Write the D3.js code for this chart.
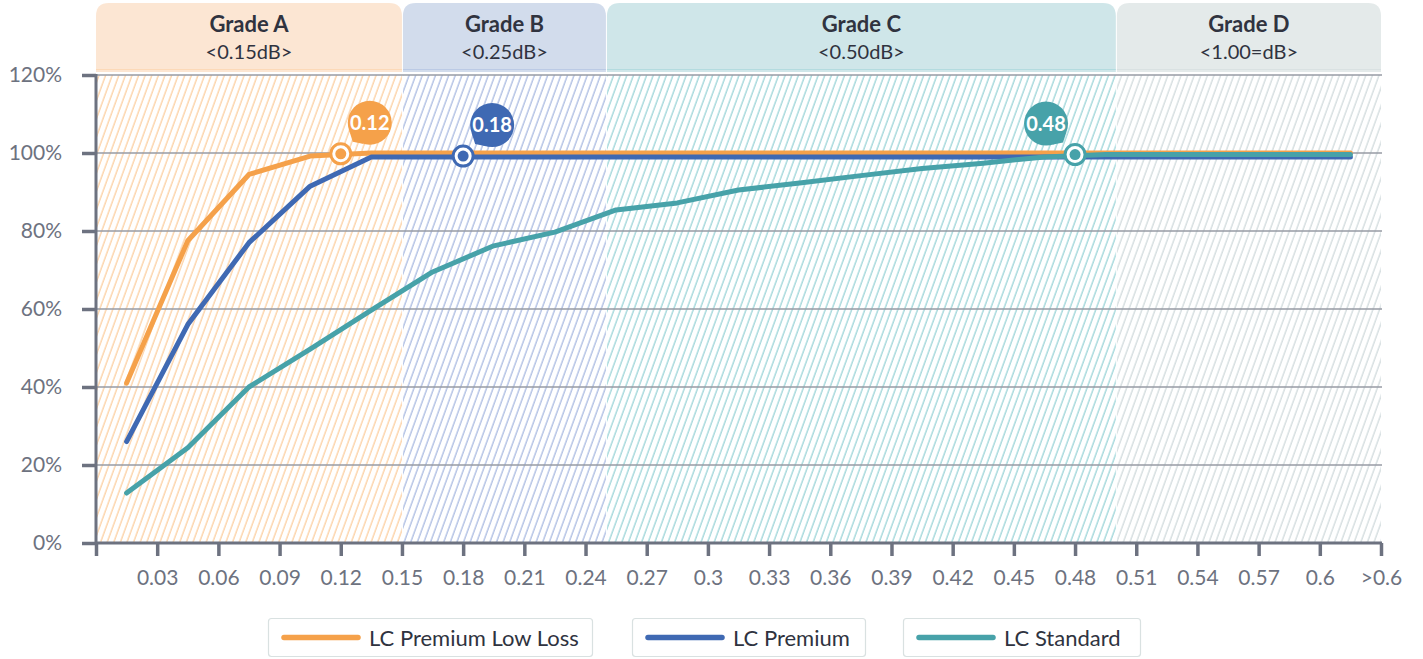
<!DOCTYPE html>
<html>
<head>
<meta charset="utf-8">
<script src="https://cdn.jsdelivr.net/npm/d3@7"></script>
<style>
  body { margin: 0; background: #fff; }
  svg { display: block; font-family: Lato, "Noto Sans", sans-serif; }
</style>
</head>
<body>
<div id="chart"></div>
<script>
// chart size
let width = 1423;
let height = 659;

// x positions of the points (middle of each 0.03 bin)
let xPoints = [0.015, 0.045, 0.075, 0.105, 0.135, 0.165, 0.195, 0.225, 0.255, 0.285, 0.315,
               0.345, 0.375, 0.405, 0.435, 0.465, 0.495, 0.525, 0.555, 0.585, 0.615];

// cumulative share of connectors, in %
let lowLoss  = [41, 77.5, 94.5, 99.2, 100, 100, 100, 100, 100, 100, 100,
                100, 100, 100, 100, 100, 100, 100, 100, 100, 100];
let premium  = [26, 56, 77, 91.5, 99, 99, 99, 99, 99, 99, 99,
                99, 99, 99, 99, 99, 99, 99, 99, 99, 99];
let standard = [12.8, 24.4, 40, 49.7, 59.7, 69.5, 76.2, 79.7, 85.4, 87.2, 90.5,
                92.3, 94.2, 96.0, 97.4, 99.0, 99.6, 99.6, 99.6, 99.6, 99.6];

let seriesNames = ["LC Premium Low Loss", "LC Premium", "LC Standard"];
let seriesColors = ["#f5a14a", "#3f69b3", "#47a2a9"];

// where each series reaches 100%
let markerX = [0.12, 0.18, 0.48];
let markerY = [99.8, 99.2, 99.6];
let markerLabels = ["0.12", "0.18", "0.48"];

// grade bands
let gradeNames = ["Grade A", "Grade B", "Grade C", "Grade D"];
let gradeLimits = ["<0.15dB>", "<0.25dB>", "<0.50dB>", "<1.00=dB>"];
let gradeFrom = [0, 0.15, 0.25, 0.5];
let gradeTo = [0.15, 0.25, 0.5, 0.63];
let gradeFill = ["#fce6d3", "#d2dcec", "#cfe6e9", "#e4eaea"];
let gradeHatch = ["#fcc995", "#a0b3de", "#90cfd3", "#ccd6d9"];

// axis ticks
let xTicks = [0, 0.03, 0.06, 0.09, 0.12, 0.15, 0.18, 0.21, 0.24, 0.27, 0.3,
              0.33, 0.36, 0.39, 0.42, 0.45, 0.48, 0.51, 0.54, 0.57, 0.6, 0.63];
let xTickLabels = ["", "0.03", "0.06", "0.09", "0.12", "0.15", "0.18", "0.21", "0.24", "0.27", "0.3",
                   "0.33", "0.36", "0.39", "0.42", "0.45", "0.48", "0.51", "0.54", "0.57", "0.6", ">0.6"];
let yTicks = [0, 20, 40, 60, 80, 100, 120];

let axisColor = "#6d7280";

let svg = d3.select("#chart")
            .append("svg")
            .attr("width", width)
            .attr("height", height);

let x = d3.scaleLinear()
          .domain([0, 0.63])
          .range([96, 1381]);

let y = d3.scaleLinear()
          .domain([0, 120])
          .range([543, 75]);

// hatch patterns
let defs = svg.append("defs");
gradeHatch.forEach(function(c, i) {
    let p = defs.append("pattern")
                .attr("id", "hatch" + i)
                .attr("patternUnits", "userSpaceOnUse")
                .attr("width", 6.2)
                .attr("height", 10)
                .attr("patternTransform", "rotate(20)");
    p.append("line")
     .attr("x1", 1).attr("y1", 0)
     .attr("x2", 1).attr("y2", 10)
     .style("stroke", c)
     .style("stroke-width", 1.15);
});

// hatched bands in the plot
svg.selectAll("rect.band")
    .data(gradeFrom)
    .enter()
    .append("rect")
    .attr("class", "band")
    .attr("x", function(d, i) { return x(d) + (i > 0 ? 1 : 0); })
    .attr("y", y(120))
    .attr("width", function(d, i) { return x(gradeTo[i]) - x(d) - (i > 0 ? 1 : 0); })
    .attr("height", y(0) - y(120))
    .style("fill", function(d, i) { return "url(#hatch" + i + ")"; });

// header tabs with rounded top corners
function tabPath(x0, x1, y0, y1, r) {
    return "M" + x0 + "," + y1 +
           "L" + x0 + "," + (y0 + r) +
           "Q" + x0 + "," + y0 + " " + (x0 + r) + "," + y0 +
           "L" + (x1 - r) + "," + y0 +
           "Q" + x1 + "," + y0 + " " + x1 + "," + (y0 + r) +
           "L" + x1 + "," + y1 + "Z";
}

let header = svg.append("g");
gradeNames.forEach(function(name, i) {
    let x0 = x(gradeFrom[i]) + (i > 0 ? 1 : 0);
    let x1 = x(gradeTo[i]);
    header.append("path")
          .attr("d", tabPath(x0, x1, 3, 72, 13))
          .style("fill", gradeFill[i]);
    header.append("line")
          .attr("x1", x0).attr("x2", x1)
          .attr("y1", 69.5).attr("y2", 69.5)
          .style("stroke", gradeHatch[i])
          .style("stroke-opacity", 0.45)
          .style("stroke-width", 1);
    header.append("text")
          .attr("x", (x0 + x1) / 2)
          .attr("y", 32)
          .attr("text-anchor", "middle")
          .style("font-size", "22px")
          .style("font-weight", "bold")
          .style("fill", "#30333f")
          .text(name);
    header.append("text")
          .attr("x", (x0 + x1) / 2)
          .attr("y", 59)
          .attr("text-anchor", "middle")
          .style("font-size", "20px")
          .style("fill", "#30333f")
          .text(gradeLimits[i]);
});

// gridlines
svg.append("g")
    .selectAll("line")
    .data(yTicks.slice(1))
    .enter()
    .append("line")
    .attr("x1", x(0))
    .attr("x2", x(0.63) + 1)
    .attr("y1", function(d) { return y(d); })
    .attr("y2", function(d) { return y(d); })
    .style("stroke", "#979ba4")
    .style("stroke-width", 1.6);

// axes
let xAxis = svg.append("g")
    .attr("transform", "translate(0," + y(0) + ")")
    .call(d3.axisBottom(x)
            .tickValues(xTicks)
            .tickFormat(function(d, i) { return xTickLabels[i]; })
            .tickSize(13)
            .tickPadding(14));

let yAxis = svg.append("g")
    .attr("transform", "translate(" + x(0) + ",0)")
    .call(d3.axisLeft(y)
            .tickValues(yTicks)
            .tickFormat(function(d) { return d + "%"; })
            .tickSize(14)
            .tickPadding(20));

[xAxis, yAxis].forEach(function(a) {
    a.select(".domain")
     .style("stroke", axisColor)
     .style("stroke-width", 3);
    a.selectAll(".tick line")
     .style("stroke", axisColor)
     .style("stroke-width", 3.5);
    a.selectAll(".tick text")
     .style("fill", axisColor)
     .style("font-family", "Lato, sans-serif")
     .style("font-size", "21px");
});
xAxis.select(".domain").attr("d", "M" + x(0) + ",0H" + (x(0.63) + 1));
yAxis.select(".domain").attr("d", "M0," + (y(0) + 1.5) + "V" + (y(120) - 1));

// series lines
let allSeries = [lowLoss, premium, standard];
let line = d3.line()
             .x(function(d, i) { return x(xPoints[i]); })
             .y(function(d) { return y(d); });

svg.append("g")
    .selectAll("path")
    .data(allSeries)
    .enter()
    .append("path")
    .attr("d", line)
    .style("fill", "none")
    .style("stroke", function(d, i) { return seriesColors[i]; })
    .style("stroke-width", 5)
    .style("stroke-linecap", "round")
    .style("stroke-linejoin", "round");

// markers with callout bubbles
markerX.forEach(function(mx, i) {
    let px = x(mx);
    let py = y(markerY[i]);
    let side = mx > 0.4 ? -1 : 1;
    let bx = px + side * 29;
    let by = py - 31;
    let r = 22;
    let tipX = px + side * 12;
    let tipY = py - 12;
    let a = Math.atan2(tipY - by, tipX - bx);
    let p1 = [bx + r * Math.cos(a - 0.45), by + r * Math.sin(a - 0.45)];
    let p2 = [bx + r * Math.cos(a + 0.45), by + r * Math.sin(a + 0.45)];
    let g = svg.append("g");
    g.append("circle")
     .attr("cx", bx).attr("cy", by).attr("r", r)
     .style("fill", seriesColors[i]);
    g.append("path")
     .attr("d", "M" + p1 + "L" + tipX + "," + tipY + "L" + p2 + "Z")
     .style("fill", seriesColors[i]);
    g.append("text")
     .attr("x", bx).attr("y", by + 7)
     .attr("text-anchor", "middle")
     .style("font-size", "20px")
     .style("font-weight", "bold")
     .style("fill", "#fff")
     .text(markerLabels[i]);
    g.append("circle")
     .attr("cx", px).attr("cy", py).attr("r", 10)
     .style("fill", "#fff")
     .style("stroke", seriesColors[i])
     .style("stroke-width", 3);
    g.append("circle")
     .attr("cx", px).attr("cy", py).attr("r", 5.5)
     .style("fill", seriesColors[i]);
});

// legend
let legendX = [268, 632, 903];
let legendW = [324, 233, 237];
let legend = svg.append("g");
seriesNames.forEach(function(name, i) {
    legend.append("rect")
          .attr("x", legendX[i] + 0.5).attr("y", 618.5)
          .attr("width", legendW[i]).attr("height", 38)
          .attr("rx", 3)
          .style("fill", "#fff")
          .style("stroke", "#d9e1e1")
          .style("stroke-width", 1.2);
    legend.append("line")
          .attr("x1", legendX[i] + 16).attr("x2", legendX[i] + 90)
          .attr("y1", 637.5).attr("y2", 637.5)
          .style("stroke", seriesColors[i])
          .style("stroke-width", 5.5)
          .style("stroke-linecap", "round");
    legend.append("text")
          .attr("x", legendX[i] + 101).attr("y", 645.5)
          .style("font-size", "22px")
          .style("fill", "#2f3340")
          .text(name);
});
</script>
</body>
</html>
